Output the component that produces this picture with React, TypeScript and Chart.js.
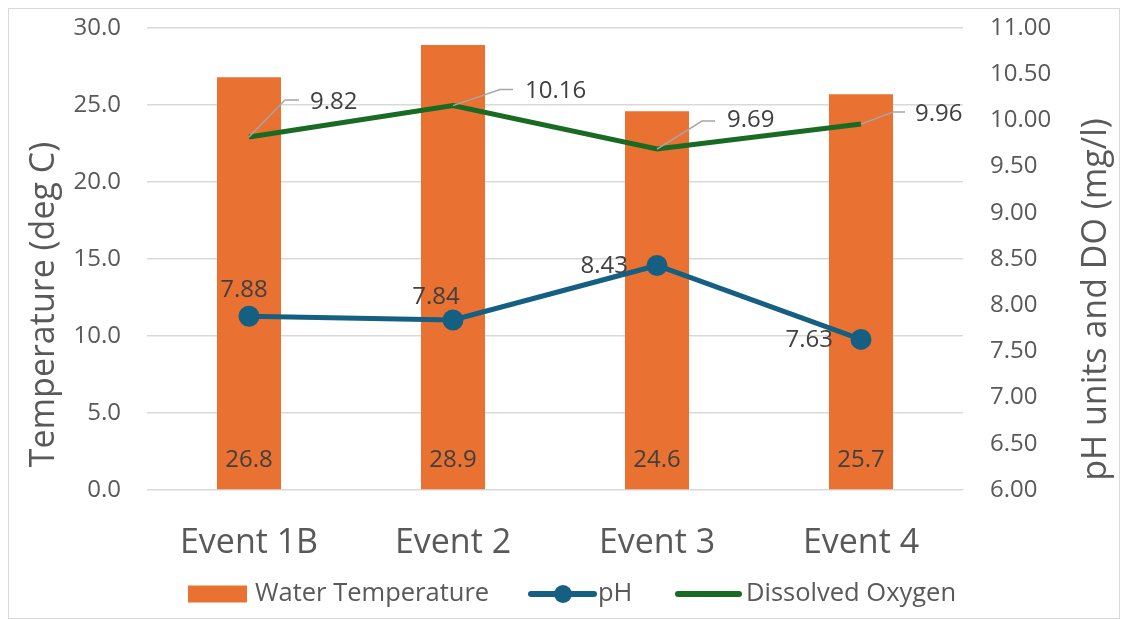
import React, { useEffect, useRef } from "react";
import { Chart, registerables } from "chart.js";

Chart.register(...registerables);

const categories = ["Event 1B", "Event 2", "Event 3", "Event 4"];
const seriesNames = ["Water Temperature", "pH", "Dissolved Oxygen"];
const waterTemperature = [26.8, 28.9, 24.6, 25.7];
const phValues = [7.88, 7.84, 8.43, 7.63];
const dissolvedOxygen = [9.82, 10.16, 9.69, 9.96];
const leftAxisRange = [0, 30, 5];
const rightAxisRange = [6, 11, 0.5];
const leftTitle = "Temperature (deg C)";
const rightTitle = "pH units and DO (mg/l)";

const FONT = '"Open Sans", "Liberation Sans", sans-serif';
const ORANGE = "#E97132";
const BLUE = "#156082";
const GREEN = "#196B24";
const TICK = "#595959";
const LABEL = "#404040";
const GRID = "#D9D9D9";

// label placement offsets (pixels)
const doLeader = [
  { ex: 36, ey: -37, hx: 50, tx: 61, ty: -35 },
  { ex: 47, ey: -16, hx: 60, tx: 72, ty: -14 },
  { ex: 45, ey: -28, hx: 58, tx: 70, ty: -29 },
  { ex: 32, ey: -12, hx: 44, tx: 54, ty: -10 },
];
const phLabelPos = [
  { dx: -5, dy: -26, align: "center" },
  { dx: -17, dy: -23, align: "center" },
  { dx: -29, dy: 1, align: "right" },
  { dx: -28, dy: 1, align: "right" },
];

const overlay = {
  id: "overlay",
  afterDatasetsDraw(chart: any) {
    const ctx = chart.ctx;
    const x = chart.scales.x;
    const y = chart.scales.y;
    const y2 = chart.scales.y2;
    ctx.save();
    ctx.font = `24px ${FONT}`;
    ctx.fillStyle = LABEL;
    ctx.textBaseline = "middle";
    ctx.textAlign = "center";
    waterTemperature.forEach((v, i) => {
      const px = x.getPixelForValue(i);
      ctx.fillText(v.toFixed(1), px, y.getPixelForValue(0) - 30);
    });
    phValues.forEach((v, i) => {
      const px = x.getPixelForValue(i);
      const py = y2.getPixelForValue(v);
      const p = phLabelPos[i];
      ctx.textAlign = p.align;
      ctx.fillText(v.toFixed(2), px + p.dx, py + p.dy);
    });
    dissolvedOxygen.forEach((v, i) => {
      const px = x.getPixelForValue(i);
      const py = y2.getPixelForValue(v);
      const l = doLeader[i];
      ctx.strokeStyle = "#A6A6A6";
      ctx.lineWidth = 1.5;
      ctx.beginPath();
      ctx.moveTo(px, py);
      ctx.lineTo(px + l.ex, py + l.ey);
      ctx.lineTo(px + l.hx, py + l.ey);
      ctx.stroke();
      ctx.textAlign = "left";
      ctx.fillStyle = LABEL;
      ctx.fillText(v.toFixed(2), px + l.tx, py + l.ty);
    });
    ctx.restore();
  },
  afterDraw(chart: any) {
    const ctx = chart.ctx;
    const H = chart.height;
    ctx.save();
    ctx.strokeStyle = GRID;
    ctx.lineWidth = 1;
    ctx.strokeRect(8.5, 8.5, 1111, 610);
    ctx.fillStyle = TICK;
    ctx.font = `34px ${FONT}`;
    ctx.textAlign = "center";
    ctx.textBaseline = "middle";
    ctx.save();
    ctx.translate(44, H / 2 - 5);
    ctx.rotate(-Math.PI / 2);
    ctx.fillText(leftTitle, 0, 0);
    ctx.restore();
    ctx.save();
    ctx.translate(1096, H / 2 - 10);
    ctx.rotate(-Math.PI / 2);
    ctx.fillText(rightTitle, 0, 0);
    ctx.restore();
    const ly = 594;
    ctx.font = `25.5px ${FONT}`;
    ctx.textAlign = "left";
    ctx.fillStyle = ORANGE;
    ctx.fillRect(188, ly - 8.5, 59, 17);
    ctx.fillStyle = TICK;
    ctx.fillText(seriesNames[0], 255, ly);
    ctx.strokeStyle = BLUE;
    ctx.lineWidth = 6;
    ctx.lineCap = "round";
    ctx.beginPath();
    ctx.moveTo(531, ly);
    ctx.lineTo(594, ly);
    ctx.stroke();
    ctx.fillStyle = BLUE;
    ctx.beginPath();
    ctx.arc(563, ly, 9, 0, Math.PI * 2);
    ctx.fill();
    ctx.fillStyle = TICK;
    ctx.fillText(seriesNames[1], 598, ly);
    ctx.strokeStyle = GREEN;
    ctx.beginPath();
    ctx.moveTo(678, ly);
    ctx.lineTo(739, ly);
    ctx.stroke();
    ctx.fillText(seriesNames[2], 746, ly);
    ctx.restore();
  },
};

export default function App() {
  const ref = useRef<HTMLCanvasElement>(null);
  useEffect(() => {
    if (!ref.current) return;
    const chart = new Chart(ref.current, {
      type: "bar",
      data: {
        labels: categories,
        datasets: [
          {
            type: "line",
            label: seriesNames[2],
            data: dissolvedOxygen,
            yAxisID: "y2",
            borderColor: GREEN,
            backgroundColor: GREEN,
            borderWidth: 5,
            pointRadius: 0,
            order: 0,
          } as any,
          {
            type: "line",
            label: seriesNames[1],
            data: phValues,
            yAxisID: "y2",
            borderColor: BLUE,
            backgroundColor: BLUE,
            pointBackgroundColor: BLUE,
            pointBorderColor: BLUE,
            borderWidth: 5,
            pointRadius: 8,
            order: 1,
          } as any,
          {
            type: "bar",
            label: seriesNames[0],
            data: waterTemperature,
            yAxisID: "y",
            backgroundColor: ORANGE,
            barPercentage: 0.314,
            categoryPercentage: 1,
            order: 2,
          } as any,
        ],
      },
      options: {
        animation: false,
        responsive: false,
        layout: { padding: { top: 28, left: 0, right: 0, bottom: 0 } },
        plugins: { legend: { display: false }, tooltip: { enabled: false } },
        scales: {
          x: {
            grid: { display: false, drawTicks: false },
            border: { display: false },
            ticks: { font: { size: 34, family: FONT }, color: TICK, padding: 33 },
            afterFit: (s: any) => {
              s.height = 129;
              s.paddingLeft = 0;
              s.paddingRight = 0;
              s.paddingTop = 0;
              s.paddingBottom = 0;
            },
          },
          y: {
            position: "left",
            min: leftAxisRange[0],
            max: leftAxisRange[1],
            grid: { color: GRID, lineWidth: 1.5, drawTicks: false },
            border: { display: false },
            ticks: {
              stepSize: leftAxisRange[2],
              font: { size: 24, family: FONT },
              color: TICK,
              padding: 26,
              callback: (v: any) => Number(v).toFixed(1),
            },
            afterFit: (s: any) => {
              s.width = 147;
              s.paddingTop = 0;
              s.paddingBottom = 0;
            },
          },
          y2: {
            position: "right",
            min: rightAxisRange[0],
            max: rightAxisRange[1],
            grid: { display: false, drawTicks: false },
            border: { display: false },
            ticks: {
              stepSize: rightAxisRange[2],
              font: { size: 24, family: FONT },
              color: TICK,
              padding: 27,
              callback: (v: any) => Number(v).toFixed(2),
            },
            afterFit: (s: any) => {
              s.width = 159;
              s.paddingTop = 0;
              s.paddingBottom = 0;
            },
          },
        },
      } as any,
      plugins: [overlay],
    });
    return () => chart.destroy();
  }, []);
  return (
    <div style={{ position: "absolute", left: 0, top: 0, width: 1122, height: 619, background: "#fff" }}>
      <canvas ref={ref} width={1122} height={619} style={{ display: "block" }} />
    </div>
  );
}
